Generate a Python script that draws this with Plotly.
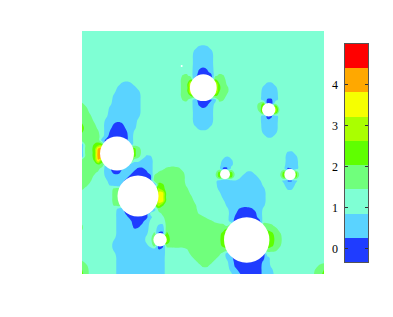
import numpy as np
import plotly.graph_objects as go

# Field values: one run-length row per grid line, as band, last column, ...
# Anything after the last run in a row is band 2, the background.
band_runs = [
 [],[],[],[],
 [2,28,1,31],
 [2,27,1,32],[2,27,1,32],[2,27,1,32],[2,27,1,32],
 [2,27,1,29,0,30,1,32],
 [2,27,1,28,0,31,1,32],
 [2,24,3,26,2,27,1,28,0,32,2,33,3,35],
 [2,24,3,26,4,27,0,32,4,33,3,35],
 [2,9,1,12,2,24,3,26,6,33,4,34,3,35,2,45,1,47],
 [2,8,1,13,2,24,3,26,6,33,4,34,3,36,2,44,1,48],
 [2,8,1,14,2,24,3,26,6,33,4,34,3,36,2,44,1,48],
 [2,7,1,14,2,24,3,26,4,33,3,35,2,44,1,48],
 [2,7,1,14,2,24,3,26,2,27,1,28,0,32,1,33,3,35,2,44,1,45,0,47,1,48],
 [3,0,2,7,1,14,2,27,1,28,0,31,1,32,2,43,3,44,4,45,0,47,3,48],
 [3,1,2,6,1,14,2,27,1,29,0,30,1,32,2,43,3,44,5,48],
 [3,1,2,6,1,14,2,27,1,32,2,43,3,44,5,48],
 [3,2,2,6,1,14,2,27,1,32,2,44,1,45,0,47,1,48],
 [3,2,2,5,1,13,2,27,1,32,2,44,1,45,0,46,1,48],
 [4,0,3,3,2,5,1,7,0,10,1,13,2,27,1,32,2,44,1,48],
 [4,0,3,3,2,5,1,7,0,10,1,13,2,28,1,31,2,44,1,48],
 [4,0,3,4,2,5,1,6,0,11,1,12,2,44,1,48],
 [3,4,2,5,1,6,0,11,1,12,2,45,1,47],
 [3,4,1,5,0,11,1,12],
 [1,0,3,2,4,5,0,11,1,12],
 [1,0,3,2,4,3,6,4,7,8,4,13,3,14],
 [1,0,3,2,4,3,7,4,8,8,4,13,3,14,2,50,1,52],
 [1,0,3,2,4,3,7,4,8,8,4,13,3,14,2,15,1,17,2,35,1,36,2,50,1,53],
 [3,2,4,3,6,4,4,12,2,14,1,17,2,34,1,37,2,50,1,53],
 [3,3,4,4,3,5,1,17,2,34,1,37,2,50,1,53],
 [3,4,2,5,1,6,0,10,1,13,0,15,1,17,2,20,3,24,2,34,0,36,2,50,0,52,1,53],
 [3,3,2,5,1,7,0,9,1,12,0,16,1,17,2,18,3,25,2,33,4,37,2,40,1,42,2,49,4,53],
 [3,2,2,5,1,11,0,17,3,25,2,33,4,37,2,39,1,43,2,49,4,53],
 [3,2,2,6,1,10,0,17,3,25,2,33,1,34,0,36,1,37,2,38,1,44,2,49,1,50,0,52,1,53],
 [3,1,2,6,1,9,0,18,4,20,3,25,2,33,1,44,2,50,1,52],
 [3,0,2,7,3,18,5,19,4,20,3,26,2,33,1,45,2,50,1,52],
 [2,7,3,18,6,20,3,26,2,34,1,45],
 [2,7,3,18,6,20,3,27,2,34,1,45],
 [2,7,3,18,6,20,3,27,2,35,1,45],
 [2,7,3,18,5,19,4,20,3,28,2,35,1,45],
 [2,8,1,10,0,17,1,18,3,28,2,36,1,38,0,42,1,44],
 [2,8,1,10,0,16,2,19,3,28,2,36,1,38,0,43,1,44],
 [2,8,1,11,0,16,1,17,2,20,3,30,2,36,1,37,0,43,1,44],
 [2,8,1,12,0,15,1,16,2,20,3,32,2,36,1,37,0,44],
 [3,0,2,8,1,12,0,14,1,16,2,18,1,20,3,35,2,36,3,37,0,44,3,47],
 [3,0,2,8,1,12,0,13,1,16,2,18,1,20,3,35,4,45,3,48],
 [2,8,1,16,2,17,3,18,0,20,4,21,3,34,4,35,5,46,4,47,3,49],
 [2,8,1,15,2,17,4,20,5,21,3,34,4,35,5,46,4,47,3,49],
 [2,7,1,15,2,17,4,20,5,21,3,34,4,35,5,46,4,47,3,49],
 [2,7,1,16,2,17,3,18,0,20,3,34,4,35,5,46,4,47,3,49],
 [2,7,1,18,0,19,1,20,2,26,3,48],
 [2,8,1,20,2,26,3,34,2,35,1,36,0,45],
 [2,8,1,20,2,27,3,33,2,35,1,37,0,45,1,46],
 [3,0,2,8,1,20,2,28,3,32,2,36,1,37,0,44,1,46],
 [3,1,2,8,1,20,2,29,3,31,2,36,1,37,0,44,1,46,2,58,3,60],
 [4,0,3,1,2,8,1,20,2,36,1,38,0,44,1,47,2,57,3,59,4,60],
 [4,0,3,1,2,8,1,20,2,37,1,39,0,44,1,47,2,57,3,59,4,60],
]

band_colors = ["#1f3cff", "#5ad3ff", "#7fffd4", "#70ff7c", "#5fff00",
               "#aaff00", "#f6ff00", "#ffa800", "#ff0000"]
band_values = [-0.03, 0.565, 1.155, 1.745, 2.33, 2.92, 3.5, 4.1, 4.7]
band_edges = [-0.32, 0.27, 0.86, 1.45, 2.04, 2.63, 3.22, 3.81, 4.41, 5.0]
colorbar_ticks = [0, 1, 2, 3, 4]

hole_x = [35, 56, 78, 164.7, 143, 208, 186.7, 121.3, 99.7]
hole_y = [122.5, 165, 208.7, 209, 143.3, 143.5, 78.7, 56.7, 35]
hole_r = [17, 20.5, 6.7, 22.7, 5, 5.7, 6.7, 13.4, 1]

N = 61
PLOT_W, PLOT_H = 242, 243


def decode(runs):
    row, pairs = [], zip(runs[0::2], runs[1::2])
    for band, last in pairs:
        row += [band_values[band]] * (last + 1 - len(row))
    return row + [band_values[2]] * (N - len(row))


def soften(a):
    """Rounds the staircase of the band grid; only steps of one band are averaged."""
    p = np.pad(a, 1, mode="edge")
    total, weight = np.zeros_like(a), np.zeros_like(a)
    for dr in range(3):
        for dc in range(3):
            nb = p[dr:dr + N, dc:dc + N]
            w = (2 - abs(dr - 1)) * (2 - abs(dc - 1)) * (np.abs(nb - a) < 0.7)
            total += w * nb
            weight += w
    return total / weight


grid = np.array([decode(r) for r in band_runs], dtype=float)
z = soften(grid).tolist()
x = [i * PLOT_W / (N - 1) for i in range(N)]
y = [i * PLOT_H / (N - 1) for i in range(N)]

n = len(band_colors)
scale = []
for i, c in enumerate(band_colors):
    scale += [[i / n, c], [(i + 1) / n, c]]
lo, hi = band_edges[0], band_edges[-1]
step = (hi - lo) / n

fig = go.Figure()
fig.add_trace(go.Contour(
    x=x, y=y, z=z, zmin=lo, zmax=hi, colorscale=scale, showscale=False,
    contours=dict(coloring="fill", start=lo + step, end=hi - step, size=step),
    line=dict(width=0, smoothing=1.3), hoverinfo="skip", xaxis="x", yaxis="y"))
fig.add_trace(go.Heatmap(
    x=[0, 1], y=[lo + i * step for i in range(n + 1)],
    z=[[v] for v in band_values], zmin=lo, zmax=hi, colorscale=scale,
    showscale=False, hoverinfo="skip", xaxis="x2", yaxis="y2"))

for hx, hy, hr in zip(hole_x, hole_y, hole_r):
    fig.add_shape(type="circle", xref="x", yref="y", x0=hx - hr, x1=hx + hr,
                  y0=hy - hr, y1=hy + hr, fillcolor="white", line_width=0, layer="above")

W, H = 393, 317
fig.update_layout(
    width=W, height=H, margin=dict(l=0, r=0, t=0, b=0),
    paper_bgcolor="white", plot_bgcolor="white", showlegend=False,
    xaxis=dict(domain=[82 / W, 324 / W], range=[0, PLOT_W], visible=False),
    yaxis=dict(domain=[1 - 274 / H, 1 - 31 / H], range=[PLOT_H, 0], visible=False),
    xaxis2=dict(domain=[344.5 / W, 368 / W], range=[0, 1], anchor="y2", showticklabels=False,
                ticks="", showline=True, mirror=True, linecolor="#555555", linewidth=1,
                showgrid=False, zeroline=False),
    yaxis2=dict(domain=[1 - 262 / H, 1 - 44 / H], range=[lo, hi], anchor="x2", side="left",
                tickvals=colorbar_ticks, ticks="inside", ticklen=3, tickcolor="#333333",
                mirror="ticks", showline=True, linecolor="#555555", linewidth=1,
                showgrid=False, zeroline=False, ticklabelstandoff=3,
                tickfont=dict(family="Liberation Serif", size=12, color="#000000")),
)
fig.write_html("out.html", config=dict(displayModeBar=False),
               post_script="document.body.style.margin='0';")
